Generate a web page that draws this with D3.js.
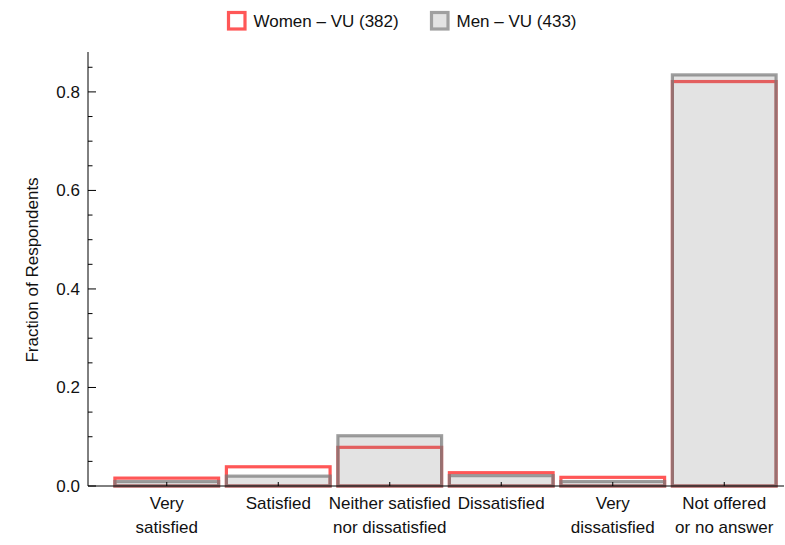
<!DOCTYPE html>
<html><head><meta charset="utf-8">
<script src="https://cdn.jsdelivr.net/npm/d3@7"></script>
<style>body{margin:0;background:#fff}svg{display:block}text{font-family:"Liberation Sans",Arial,sans-serif;fill:#111}</style>
</head><body><svg id="c" width="785" height="545"></svg>
<script>
const categories = [["Very","satisfied"],["Satisfied"],["Neither satisfied","nor dissatisfied"],["Dissatisfied"],["Very","dissatisfied"],["Not offered","or no answer"]];
const women = [0.016, 0.039, 0.0785, 0.027, 0.0176, 0.821];
const men = [0.009, 0.020, 0.102, 0.021, 0.009, 0.8345];
const seriesNames = ["Women \u2013 VU (382)", "Men \u2013 VU (433)"];
const yTicks = [0, 0.2, 0.4, 0.6, 0.8];
const yMinor = d3.range(0.05, 0.88, 0.05);

const svg = d3.select("#c");
const x = d3.scaleBand().domain(d3.range(categories.length)).range([111, 780]).paddingInner(0.07).paddingOuter(0.035);
const y = d3.scaleLinear().domain([0, 0.881]).range([486, 52]);

const g = svg.append("g");
g.selectAll(".w").data(women).join("rect")
  .attr("x", (d,i)=>x(i)).attr("width", x.bandwidth())
  .attr("y", d=>y(d)).attr("height", d=>y(0)-y(d))
  .attr("fill","none").attr("stroke","#ff5757").attr("stroke-width",3.2);
g.selectAll(".m").data(men).join("rect")
  .attr("x", (d,i)=>x(i)).attr("width", x.bandwidth())
  .attr("y", d=>y(d)).attr("height", d=>y(0)-y(d))
  .attr("fill","rgba(128,128,128,0.22)").attr("stroke","rgba(120,120,120,0.72)").attr("stroke-width",3.2);

const ax = svg.append("g").attr("stroke","#000").attr("stroke-width",1);
ax.append("line").attr("x1",88).attr("x2",784).attr("y1",y(0)).attr("y2",y(0));
ax.append("line").attr("x1",88).attr("x2",88).attr("y1",52).attr("y2",y(0));
yTicks.forEach(t=>{ ax.append("line").attr("x1",88).attr("x2",96).attr("y1",y(t)).attr("y2",y(t)); });
yMinor.filter(t=>Math.abs(t*5-Math.round(t*5))>1e-6).forEach(t=>{ ax.append("line").attr("x1",88).attr("x2",92.5).attr("y1",y(t)).attr("y2",y(t)); });
categories.forEach((c,i)=>{ const cx = x(i)+x.bandwidth()/2; ax.append("line").attr("x1",cx).attr("x2",cx).attr("y1",y(0)).attr("y2",y(0)-4); });

svg.append("g").selectAll("text").data(yTicks).join("text")
  .attr("x",80).attr("y",d=>y(d)).attr("dy","0.35em").attr("text-anchor","end")
  .attr("font-size",17).text(d=>d.toFixed(1));

categories.forEach((c,i)=>{
  const cx = x(i)+x.bandwidth()/2;
  c.forEach((line,j)=>{
    svg.append("text").attr("x",cx).attr("y",509+j*24).attr("text-anchor","middle").attr("font-size",17).text(line);
  });
});

svg.append("text").attr("transform","translate(38,270) rotate(-90)").attr("text-anchor","middle").attr("font-size",17).text("Fraction of Respondents");

const leg = [{x:228.5, fill:"none", stroke:"#ff5757"}, {x:431.5, fill:"#e3e3e3", stroke:"#a0a0a0"}];
leg.forEach((l,i)=>{
  svg.append("rect").attr("x",l.x).attr("y",12.5).attr("width",16.5).attr("height",16.5).attr("fill",l.fill).attr("stroke",l.stroke).attr("stroke-width",3.2);
  svg.append("text").attr("x",l.x+25).attr("y",21).attr("dy","0.35em").attr("font-size",17).text(seriesNames[i]);
});
</script></body></html>
